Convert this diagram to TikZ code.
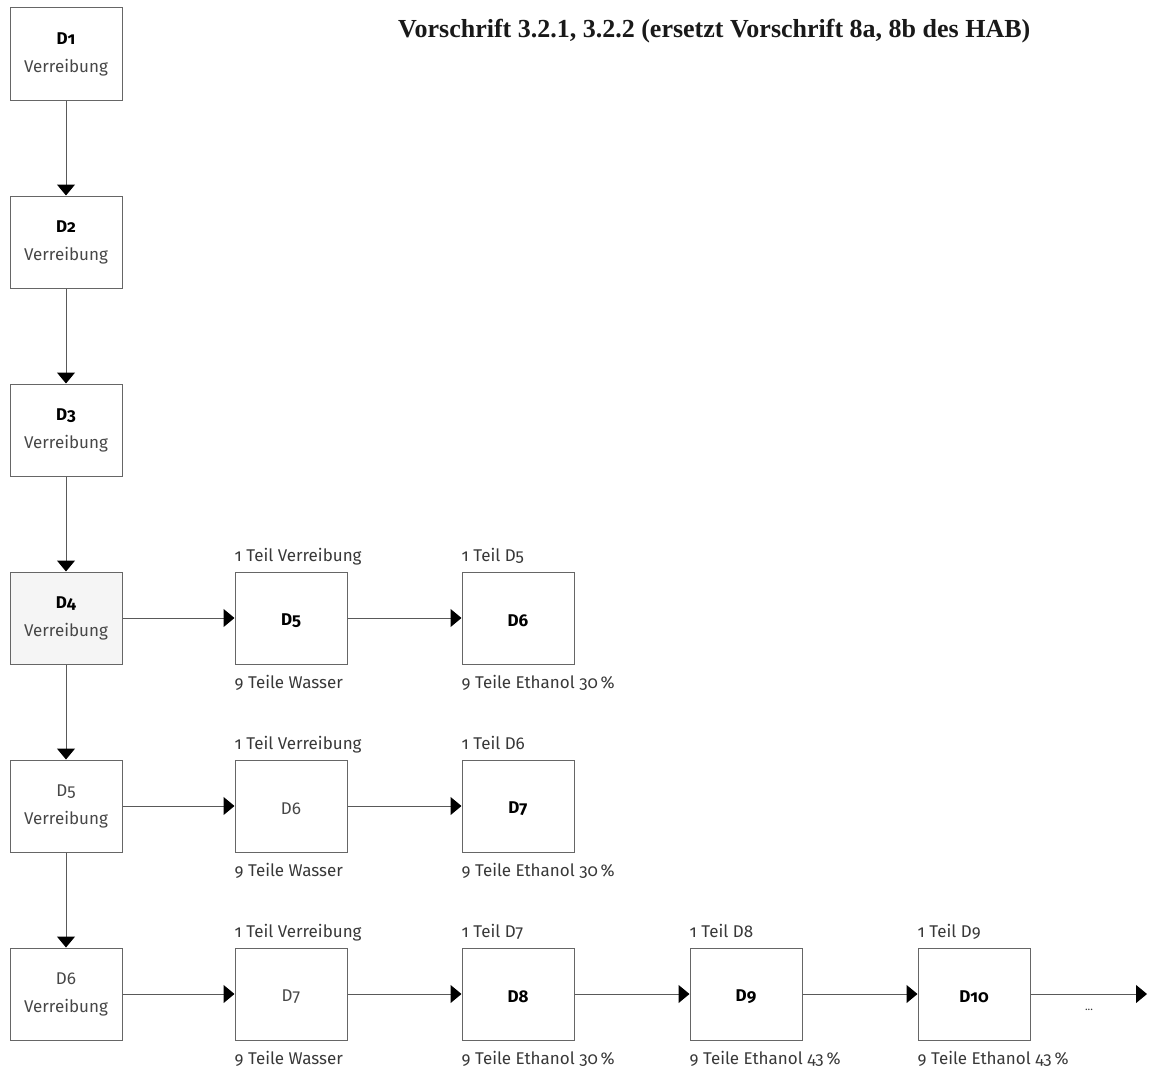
\documentclass[tikz,border=0pt]{standalone}
\usepackage{fontspec}
\setmainfont{Fira Sans}[Numbers=OldStyle]
\newfontfamily\titlefont{Liberation Serif}
\usetikzlibrary{arrows.meta}

\tikzset{
    box/.style={draw=black!60, line width=1pt, minimum width=112pt, minimum height=92pt,
        inner sep=0pt, align=center, text=black!72, font=\fontsize{17}{28}\selectfont,
        execute at begin node=\rule{0pt}{18pt}},
    plainbox/.style={},
    shadedbox/.style={fill=black!4},
    fl/.style={draw=black!65, line width=1pt, -{Triangle[length=11pt,width=18pt,color=black]}},
    note/.style={inner sep=0pt, text=black!78, font=\fontsize{17}{19}\selectfont}
}
\newcommand{\bd}[1]{\textcolor{black}{\textbf{#1}}}

\begin{document}
\begin{tikzpicture}[x=1pt,y=-1pt]
    \useasboundingbox (0,0) rectangle (1149,1073);
    %title
    \node[anchor=base west, inner sep=0pt, text=black!90, font=\titlefont\bfseries\fontsize{26}{30}\selectfont]
        (title) at (398,38) {Vorschrift 3.2.1, 3.2.2 (ersetzt Vorschrift 8a, 8b des HAB)};
    %left column
    \foreach \n/\y/\lab/\opt in {1/54/\bd{D1}/plainbox,2/242/\bd{D2}/plainbox,
        3/430/\bd{D3}/plainbox,4/618/\bd{D4}/shadedbox,5/806/D5/plainbox,6/994/D6/plainbox}
        {%
            \node[box,\opt] (d\n) at (66,\y) {\lab\\Verreibung};
        }
    \foreach \a/\b in {1/2,2/3,3/4,4/5,5/6}
        \draw[fl] (d\a) -- (d\b);
    %boxes to the right
    \node[box] (r4a) at (291,618) {\bd{D5}};
    \node[box] (r4b) at (518,618) {\bd{D6}};
    \node[box] (r5a) at (291,806) {D6};
    \node[box] (r5b) at (518,806) {\bd{D7}};
    \node[box] (r6a) at (291,994) {D7};
    \node[box] (r6b) at (518,994) {\bd{D8}};
    \node[box] (r6c) at (746,994) {\bd{D9}};
    \node[box] (r6d) at (974,994) {\bd{D10}};
    %texts above and below
    \foreach \b/\top/\bot in {r4a/1 Teil Verreibung/9 Teile Wasser,
        r4b/1 Teil D5/9 Teile Ethanol 30\,\%,
        r5a/1 Teil Verreibung/9 Teile Wasser,
        r5b/1 Teil D6/9 Teile Ethanol 30\,\%,
        r6a/1 Teil Verreibung/9 Teile Wasser,
        r6b/1 Teil D7/9 Teile Ethanol 30\,\%,
        r6c/1 Teil D8/9 Teile Ethanol 43\,\%,
        r6d/1 Teil D9/9 Teile Ethanol 43\,\%}
        {%
            \node[note, anchor=base west] (\b-top) at ([yshift=10pt]\b.north west) {\top};
            \node[note, anchor=base west] (\b-bot) at ([yshift=-24pt]\b.south west) {\bot};
        }
    %arrows
    \draw[fl] (d4) -- (r4a);
    \draw[fl] (r4a) -- (r4b);
    \draw[fl] (d5) -- (r5a);
    \draw[fl] (r5a) -- (r5b);
    \draw[fl] (d6) -- (r6a);
    \draw[fl] (r6a) -- (r6b);
    \draw[fl] (r6b) -- (r6c);
    \draw[fl] (r6c) -- (r6d);
    \coordinate (end) at (1147,994);
    \draw[fl] (r6d) -- (end);
    \node[note, font=\fontsize{11}{12}\selectfont] (dots) at (1089,1010) {...};
\end{tikzpicture}
\end{document}
